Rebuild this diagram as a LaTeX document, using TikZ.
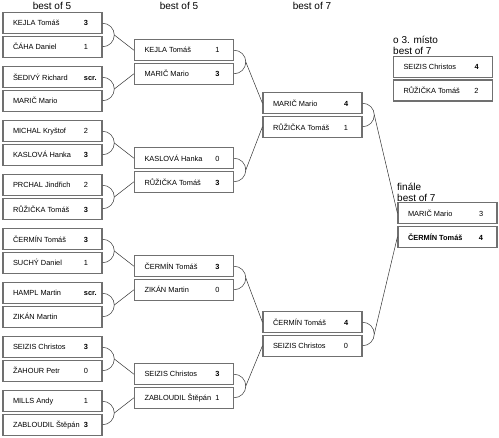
\documentclass[tikz,border=0pt]{standalone}
\usepackage{fontspec}
\setmainfont{Liberation Sans}
\usetikzlibrary{calc}
\definecolor{boxgray}{RGB}{112,112,112}
\tikzstyle{player} = [rectangle, draw=boxgray, line width=1.1pt, fill=white, minimum height=21pt, inner xsep=0pt, inner ysep=0pt, font=\fontsize{7.4}{8.5}\selectfont]
\tikzstyle{link} = [draw=black!80, line width=0.5pt]
\tikzstyle{roundlabel} = [font=\fontsize{10}{11.5}\selectfont, inner sep=0pt, align=left]
\newcommand{\plr}[2]{\makebox[81pt][l]{\hspace{10pt}#1}\makebox[18pt][l]{#2}}

\begin{document}
\begin{tikzpicture}[x=1pt, y=-1pt]
\useasboundingbox (0,0) rectangle (499,438);

% Headers
\node (h1) at (52,6) [roundlabel] {best of 5};
\node (h2) at (179,6) [roundlabel] {best of 5};
\node (h3) at (312,6) [roundlabel] {best of 7};
\node (h4) at (393,55) [roundlabel, anchor=south west] {o 3. místo\\best of 7};
\node (h5) at (397,202) [roundlabel, anchor=south west] {finále\\best of 7};

% Round 1
\node (a1) at (52.5,23.25) [player] {\plr{KEJLA Tomáš}{\textbf{3}}};
\node (a2) at (52.5,46.75) [player] {\plr{ČÁHA Daniel}{1}};
\node (a3) at (52.5,77.25) [player] {\plr{ŠEDIVÝ Richard}{\textbf{scr.}}};
\node (a4) at (52.5,100.75) [player] {\plr{MARIČ Mario}{}};
\node (a5) at (52.5,131.25) [player] {\plr{MICHAL Kryštof}{2}};
\node (a6) at (52.5,154.75) [player] {\plr{KASLOVÁ Hanka}{\textbf{3}}};
\node (a7) at (52.5,185.25) [player] {\plr{PRCHAL Jindřich}{2}};
\node (a8) at (52.5,208.75) [player] {\plr{RŮŽIČKA Tomáš}{\textbf{3}}};
\node (a9) at (52.5,239.25) [player] {\plr{ČERMÍN Tomáš}{\textbf{3}}};
\node (a10) at (52.5,262.75) [player] {\plr{SUCHÝ Daniel}{1}};
\node (a11) at (52.5,293.25) [player] {\plr{HAMPL Martin}{\textbf{scr.}}};
\node (a12) at (52.5,316.75) [player] {\plr{ZIKÁN Martin}{}};
\node (a13) at (52.5,347.25) [player] {\plr{SEIZIS Christos}{\textbf{3}}};
\node (a14) at (52.5,370.75) [player] {\plr{ŽAHOUR Petr}{0}};
\node (a15) at (52.5,401.25) [player] {\plr{MILLS Andy}{1}};
\node (a16) at (52.5,424.75) [player] {\plr{ZABLOUDIL Štěpán}{\textbf{3}}};

% Round 2
\node (b1) at (184,50.25) [player] {\plr{KEJLA Tomáš}{1}};
\node (b2) at (184,73.75) [player] {\plr{MARIČ Mario}{\textbf{3}}};
\node (b3) at (184,158.25) [player] {\plr{KASLOVÁ Hanka}{0}};
\node (b4) at (184,181.75) [player] {\plr{RŮŽIČKA Tomáš}{\textbf{3}}};
\node (b5) at (184,266.25) [player] {\plr{ČERMÍN Tomáš}{\textbf{3}}};
\node (b6) at (184,289.75) [player] {\plr{ZIKÁN Martin}{0}};
\node (b7) at (184,374.25) [player] {\plr{SEIZIS Christos}{\textbf{3}}};
\node (b8) at (184,397.75) [player] {\plr{ZABLOUDIL Štěpán}{1}};

% Round 3
\node (c1) at (312.5,103.25) [player] {\plr{MARIČ Mario}{\textbf{4}}};
\node (c2) at (312.5,126.75) [player] {\plr{RŮŽIČKA Tomáš}{1}};
\node (c3) at (312.5,322.25) [player] {\plr{ČERMÍN Tomáš}{\textbf{4}}};
\node (c4) at (312.5,345.75) [player] {\plr{SEIZIS Christos}{0}};

% Third place and final
\node (t1) at (443,67) [player] {\plr{SEIZIS Christos}{\textbf{4}}};
\node (t2) at (443,90.5) [player] {\plr{RŮŽIČKA Tomáš}{2}};
\node (f1) at (447.5,213.25) [player] {\plr{MARIČ Mario}{3}};
\node (f2) at (447.5,236.75) [player] {\plr{\textbf{ČERMÍN Tomáš}}{\textbf{4}}};

% Bracket tips
\coordinate (m1) at ($(a1.east)!.5!(a2.east)+(11.75,0)$);
\coordinate (m2) at ($(a3.east)!.5!(a4.east)+(11.75,0)$);
\coordinate (m3) at ($(a5.east)!.5!(a6.east)+(11.75,0)$);
\coordinate (m4) at ($(a7.east)!.5!(a8.east)+(11.75,0)$);
\coordinate (m5) at ($(a9.east)!.5!(a10.east)+(11.75,0)$);
\coordinate (m6) at ($(a11.east)!.5!(a12.east)+(11.75,0)$);
\coordinate (m7) at ($(a13.east)!.5!(a14.east)+(11.75,0)$);
\coordinate (m8) at ($(a15.east)!.5!(a16.east)+(11.75,0)$);
\coordinate (n1) at ($(b1.east)!.5!(b2.east)+(11.75,0)$);
\coordinate (n2) at ($(b3.east)!.5!(b4.east)+(11.75,0)$);
\coordinate (n3) at ($(b5.east)!.5!(b6.east)+(11.75,0)$);
\coordinate (n4) at ($(b7.east)!.5!(b8.east)+(11.75,0)$);
\coordinate (o1) at ($(c1.east)!.5!(c2.east)+(11.75,0)$);
\coordinate (o2) at ($(c3.east)!.5!(c4.east)+(11.75,0)$);

% Brackets
\draw [link] (a1.east) .. controls +(6.5,0) and +(0,-6.5) .. (m1) .. controls +(0,6.5) and +(6.5,0) .. (a2.east);
\draw [link] (a3.east) .. controls +(6.5,0) and +(0,-6.5) .. (m2) .. controls +(0,6.5) and +(6.5,0) .. (a4.east);
\draw [link] (a5.east) .. controls +(6.5,0) and +(0,-6.5) .. (m3) .. controls +(0,6.5) and +(6.5,0) .. (a6.east);
\draw [link] (a7.east) .. controls +(6.5,0) and +(0,-6.5) .. (m4) .. controls +(0,6.5) and +(6.5,0) .. (a8.east);
\draw [link] (a9.east) .. controls +(6.5,0) and +(0,-6.5) .. (m5) .. controls +(0,6.5) and +(6.5,0) .. (a10.east);
\draw [link] (a11.east) .. controls +(6.5,0) and +(0,-6.5) .. (m6) .. controls +(0,6.5) and +(6.5,0) .. (a12.east);
\draw [link] (a13.east) .. controls +(6.5,0) and +(0,-6.5) .. (m7) .. controls +(0,6.5) and +(6.5,0) .. (a14.east);
\draw [link] (a15.east) .. controls +(6.5,0) and +(0,-6.5) .. (m8) .. controls +(0,6.5) and +(6.5,0) .. (a16.east);
\draw [link] (b1.east) .. controls +(6.5,0) and +(0,-6.5) .. (n1) .. controls +(0,6.5) and +(6.5,0) .. (b2.east);
\draw [link] (b3.east) .. controls +(6.5,0) and +(0,-6.5) .. (n2) .. controls +(0,6.5) and +(6.5,0) .. (b4.east);
\draw [link] (b5.east) .. controls +(6.5,0) and +(0,-6.5) .. (n3) .. controls +(0,6.5) and +(6.5,0) .. (b6.east);
\draw [link] (b7.east) .. controls +(6.5,0) and +(0,-6.5) .. (n4) .. controls +(0,6.5) and +(6.5,0) .. (b8.east);
\draw [link] (c1.east) .. controls +(6.5,0) and +(0,-6.5) .. (o1) .. controls +(0,6.5) and +(6.5,0) .. (c2.east);
\draw [link] (c3.east) .. controls +(6.5,0) and +(0,-6.5) .. (o2) .. controls +(0,6.5) and +(6.5,0) .. (c4.east);

% Lines to next round
\draw [link] (m1) -- (b1.west);
\draw [link] (m2) -- (b2.west);
\draw [link] (m3) -- (b3.west);
\draw [link] (m4) -- (b4.west);
\draw [link] (m5) -- (b5.west);
\draw [link] (m6) -- (b6.west);
\draw [link] (m7) -- (b7.west);
\draw [link] (m8) -- (b8.west);
\draw [link] (n1) -- (c1.west);
\draw [link] (n2) -- (c2.west);
\draw [link] (n3) -- (c3.west);
\draw [link] (n4) -- (c4.west);
\draw [link] (o1) -- (f1.west);
\draw [link] (o2) -- (f2.west);

\end{tikzpicture}
\end{document}
